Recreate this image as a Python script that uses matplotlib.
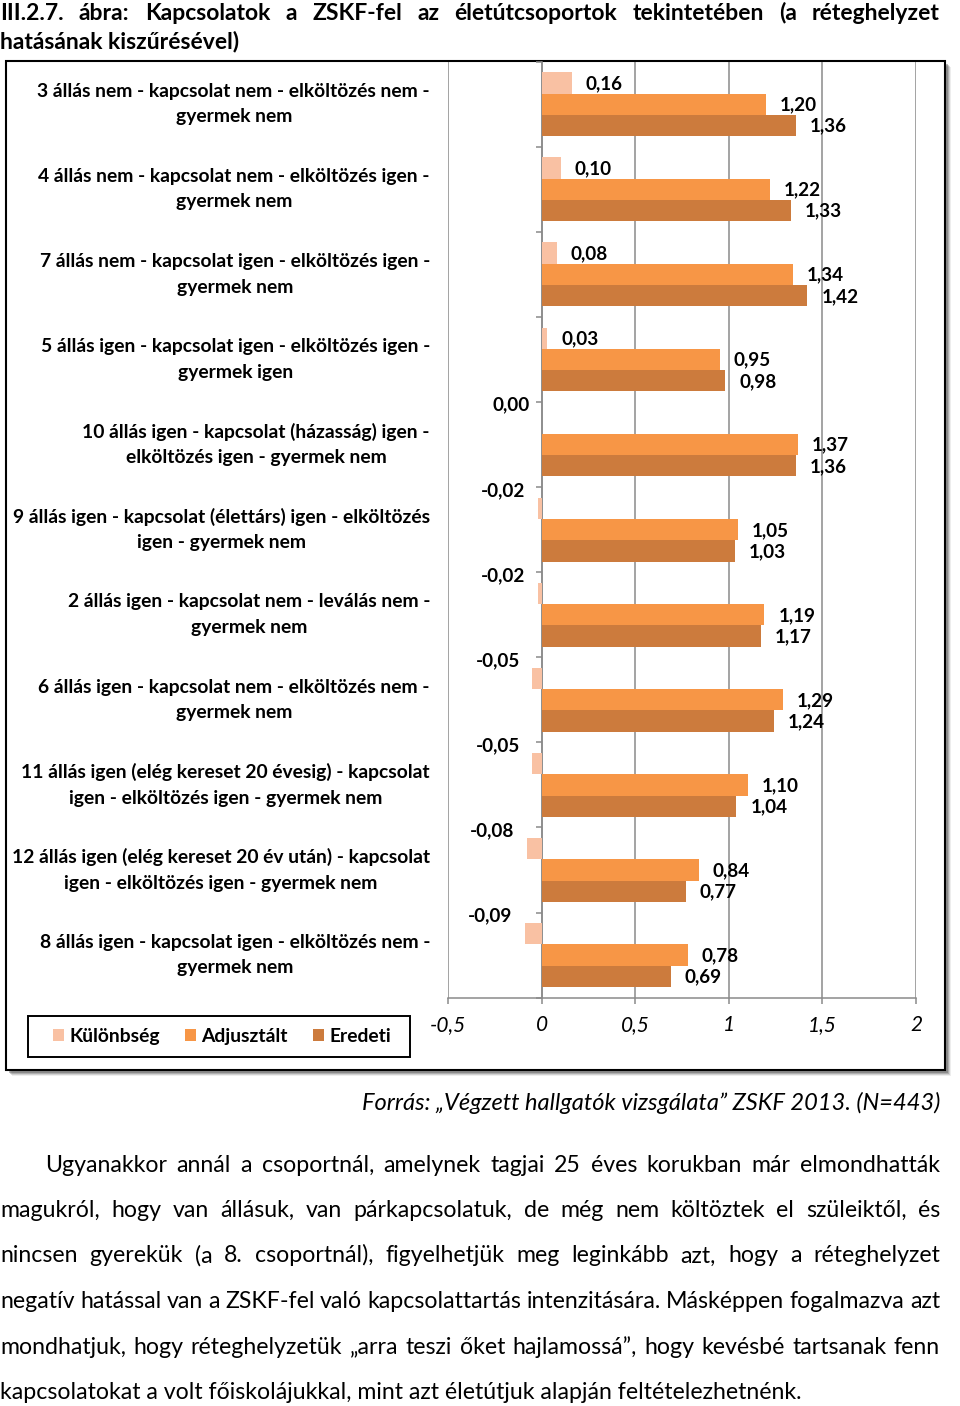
import matplotlib
matplotlib.use('Agg')
import matplotlib.pyplot as plt
from matplotlib.patches import Rectangle, Patch
from matplotlib.transforms import blended_transform_factory

W, H = 960, 1406
plt.rcParams['font.family'] = ['Lato', 'DejaVu Sans']

categories = [
    '3 állás nem - kapcsolat nem - elköltözés nem -\ngyermek nem',
    '4 állás nem - kapcsolat nem - elköltözés igen -\ngyermek nem',
    '7 állás nem - kapcsolat igen - elköltözés igen -\ngyermek nem',
    '5 állás igen - kapcsolat igen - elköltözés igen -\ngyermek igen',
    '10 állás igen - kapcsolat (házasság) igen -\nelköltözés igen - gyermek nem',
    '9 állás igen - kapcsolat (élettárs) igen - elköltözés\nigen - gyermek nem',
    '2 állás igen - kapcsolat nem - leválás nem -\ngyermek nem',
    '6 állás igen - kapcsolat nem - elköltözés nem -\ngyermek nem',
    '11 állás igen (elég kereset 20 évesig) - kapcsolat\nigen - elköltözés igen - gyermek nem',
    '12 állás igen (elég kereset 20 év után) - kapcsolat\nigen - elköltözés igen - gyermek nem',
    '8 állás igen - kapcsolat igen - elköltözés nem -\ngyermek nem',
]
kulonbseg = [0.16, 0.10, 0.08, 0.03, 0.00, -0.02, -0.02, -0.05, -0.05, -0.08, -0.09]
adjusztalt = [1.20, 1.22, 1.34, 0.95, 1.37, 1.05, 1.19, 1.29, 1.10, 0.84, 0.78]
eredeti = [1.36, 1.33, 1.42, 0.98, 1.36, 1.03, 1.17, 1.24, 1.04, 0.77, 0.69]
series_names = ['Különbség', 'Adjusztált', 'Eredeti']
series_colors = ['#F9C1A3', '#F79646', '#CC7B3D']
xticks = [-0.5, 0, 0.5, 1, 1.5, 2]
xtick_labels = ['-0,5', '0', '0,5', '1', '1,5', '2']

title_lines = [
    'III.2.7. ábra: Kapcsolatok a ZSKF-fel az életútcsoportok tekintetében (a réteghelyzet',
    'hatásának kiszűrésével)',
]
source_text = 'Forrás: „Végzett hallgatók vizsgálata” ZSKF 2013. (N=443)'
body_lines = [
    'Ugyanakkor annál a csoportnál, amelynek tagjai 25 éves korukban már elmondhatták',
    'magukról, hogy van állásuk, van párkapcsolatuk, de még nem költöztek el szüleiktől, és',
    'nincsen gyerekük (a 8. csoportnál), figyelhetjük meg leginkább azt, hogy a réteghelyzet',
    'negatív hatással van a ZSKF-fel való kapcsolattartás intenzitására. Másképpen fogalmazva azt',
    'mondhatjuk, hogy réteghelyzetük „arra teszi őket hajlamossá”, hogy kevésbé tartsanak fenn',
    'kapcsolatokat a volt főiskolájukkal, mint azt életútjuk alapján feltételezhetnénk.',
]

GRID = '#8A8A8A'

fig = plt.figure(figsize=(W / 100, H / 100), dpi=100)


def fx(x):
    return x / W


def fy(y):
    return 1 - y / H


def justify(line, y, x0, x1, **kw):
    words = line.split(' ')
    texts = [fig.text(0, fy(y), w, va='baseline', **kw) for w in words]
    r = fig.canvas.get_renderer()
    widths = [t.get_window_extent(r).width for t in texts]
    gap = (x1 - x0 - sum(widths)) / (len(words) - 1)
    x = x0
    for t, w in zip(texts, widths):
        t.set_x(fx(x))
        x += w + gap


# chart frame with shadow
for off, a in [(6, 0.10), (5, 0.18), (4, 0.28), (3, 0.4)]:
    fig.patches.append(Rectangle((fx(6 + off), fy(1070 + off)), fx(939), 1009 / H,
                                 transform=fig.transFigure, facecolor='#555555',
                                 edgecolor='none', alpha=a, zorder=0))
fig.patches.append(Rectangle((fx(6), fy(1070)), fx(939), 1009 / H, transform=fig.transFigure,
                             facecolor='white', edgecolor='black', lw=1.5, zorder=1))

ax = fig.add_axes([fx(448.3), fy(997.6), fx(916 - 448.3), (997.6 - 61.6) / H])
ax.set_facecolor('none')
ax.set_zorder(2)

n = len(categories)
ypos = list(range(n))
bh = 0.25
series = [kulonbseg, adjusztalt, eredeti]
for k, (vals, name, col) in enumerate(zip(series, series_names, series_colors)):
    yy = [y + (k - 1) * bh for y in ypos]
    ax.barh(yy, vals, height=bh, color=col, label=name, zorder=3)
    for y, v in zip(yy, vals):
        s = f'{v:.2f}'.replace('.', ',')
        if v <= 0:
            ax.annotate(s, (v, y), xytext=(-9, 13), textcoords='offset points',
                        ha='right', va='center', fontsize=13.6, fontweight='bold')
        else:
            ax.annotate(s, (v, y), xytext=(10, -0.5), textcoords='offset points',
                        ha='left', va='center', fontsize=13.6, fontweight='bold')

ax.set_xlim(-0.5, 2)
ax.set_ylim(n - 0.5, -0.5)
ax.set_xticks(xticks)
ax.set_xticklabels(xtick_labels, fontsize=15, fontstyle='italic')
ax.grid(axis='x', color=GRID, lw=1.1)
ax.set_axisbelow(True)
for s in ['top', 'right']:
    ax.spines[s].set_visible(False)
ax.spines['left'].set_position(('data', 0))
ax.spines['left'].set_color(GRID)
ax.spines['left'].set_linewidth(1.1)
ax.spines['bottom'].set_color(GRID)
ax.spines['bottom'].set_linewidth(1.1)
ax.set_yticks([y - 0.5 for y in range(n + 1)])
ax.set_yticklabels([])
ax.tick_params(axis='y', length=4, width=1.1, color=GRID, direction='out')
ax.tick_params(axis='x', length=4, width=1.1, color=GRID, direction='out', pad=8.5)

# category labels
tr = blended_transform_factory(fig.transFigure, ax.transData)
for y, lab in zip(ypos, categories):
    ax.text(fx(430), y, lab, transform=tr, ha='right', va='center', multialignment='center',
            fontsize=13.9, fontweight='bold', linespacing=1.6)

# legend (frame drawn separately so the inner padding can match)
fig.patches.append(Rectangle((fx(28), fy(1057)), fx(382), 41 / H, transform=fig.transFigure,
                             facecolor='white', edgecolor='black', lw=1.4, zorder=4))
handles = [Patch(facecolor=c, edgecolor='none') for c in series_colors]
leg = fig.legend(handles, series_names, loc='center', bbox_to_anchor=(fx(222), fy(1036.5)),
                 ncol=3, frameon=False, prop={'size': 13.9, 'weight': 'bold'},
                 handlelength=0.57, handleheight=0.57, handletextpad=0.28, columnspacing=1.3,
                 borderpad=0.2)
leg.set_zorder(5)

# title
justify(title_lines[0], 19.5, 0, 940, fontsize=16.5, fontweight='bold')
fig.text(0, fy(48), title_lines[1], va='baseline', fontsize=16.5, fontweight='bold')

# source
fig.text(fx(940), fy(1110.5), source_text, ha='right', va='baseline', fontsize=17,
         fontstyle='italic')

# body
body_base = [1171.5, 1217, 1262.5, 1308, 1353.5, 1399]
for i, (line, yb) in enumerate(zip(body_lines, body_base)):
    x0 = 45 if i == 0 else 0
    if i < len(body_lines) - 1:
        justify(line, yb, x0, 940, fontsize=16.7)
    else:
        fig.text(fx(x0), fy(yb), line, va='baseline', fontsize=16.7)

fig.savefig('out.png', dpi=100)
